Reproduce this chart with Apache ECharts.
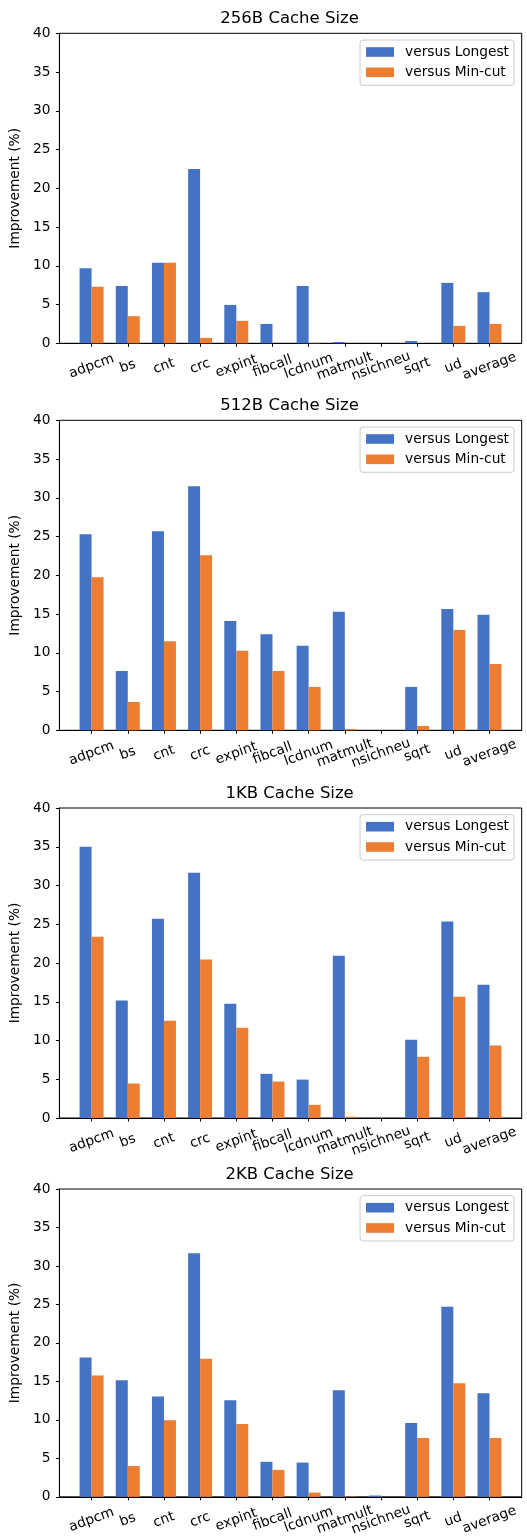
<!DOCTYPE html>
<html>
<head>
<meta charset="utf-8">
<script src="https://cdn.jsdelivr.net/npm/echarts@6/dist/echarts.min.js"></script>
<style>
html,body{margin:0;padding:0;background:#fff;}
#chart{width:527px;height:1538px;}
</style>
</head>
<body>
<div id="chart"></div>
<script>
const categories = ['adpcm','bs','cnt','crc','expint','fibcall','lcdnum','matmult','nsichneu','sqrt','ud','average'];
const panelTitles = ['256B Cache Size','512B Cache Size','1KB Cache Size','2KB Cache Size'];
const seriesNames = ['versus Longest','versus Min-cut'];

const longest256 = [9.7, 7.4, 10.4, 22.5, 4.95, 2.5, 7.4, 0.17, 0, 0.3, 7.8, 6.6];
const mincut256  = [7.3, 3.5, 10.4, 0.7, 2.9, 0, 0.03, 0, 0, 0, 2.25, 2.5];

const longest512 = [25.3, 7.65, 25.7, 31.5, 14.1, 12.4, 10.9, 15.3, 0, 5.6, 15.65, 14.9];
const mincut512  = [19.75, 3.65, 11.5, 22.6, 10.25, 7.65, 5.6, 0.17, 0, 0.56, 12.95, 8.55];

const longest1K = [35.0, 15.15, 25.7, 31.65, 14.75, 5.7, 4.95, 20.95, 0, 10.1, 25.35, 17.2];
const mincut1K  = [23.4, 4.45, 12.55, 20.45, 11.65, 4.7, 1.7, 0.17, 0, 7.9, 15.65, 9.35];

const longest2K = [18.1, 15.15, 13.05, 31.65, 12.55, 4.55, 4.45, 13.85, 0.17, 9.6, 24.7, 13.45];
const mincut2K  = [15.75, 4.0, 9.95, 17.95, 9.45, 3.5, 0.55, 0.05, 0, 7.65, 14.75, 7.65];

const yTicks = [0, 5, 10, 15, 20, 25, 30, 35, 40];

const panels = [
  [longest256, mincut256],
  [longest512, mincut512],
  [longest1K, mincut1K],
  [longest2K, mincut2K]
];
const colors = ['#4472C4', '#ED7D31'];
const FONT = 'DejaVu Sans';
const FS = 13.75;
const gridTops = [33.3, 420.3, 808, 1189];
const gridH = 310;
const gridLeft = 57.5, gridRight = 5.3;
const xMin = -0.89, xMax = 11.89;
const tickIdx = categories.map((c, i) => i);
const labelVals = [xMin].concat(tickIdx, [xMax]);

const option = {
  animation: false,
  backgroundColor: '#fff',
  title: [], legend: [], grid: [], xAxis: [], yAxis: [], series: []
};

panels.forEach((pair, p) => {
  const top = gridTops[p];
  option.title.push({
    text: panelTitles[p],
    left: gridLeft + (527 - gridLeft - gridRight) / 2,
    textAlign: 'center',
    top: top - 24.3,
    padding: 0,
    textStyle: { fontFamily: FONT, fontSize: 16.5, fontWeight: 'normal', color: '#000', lineHeight: 20 }
  });
  option.legend.push({
    data: seriesNames,
    orient: 'vertical',
    right: 13,
    top: top + 6.7,
    padding: [5, 5, 6, 6],
    itemWidth: 28,
    itemHeight: 9.6,
    itemGap: 6.3,
    icon: 'rect',
    borderColor: '#cccccc',
    borderWidth: 1,
    borderRadius: 3,
    backgroundColor: 'rgba(255,255,255,0.8)',
    textStyle: { fontFamily: FONT, fontSize: FS, color: '#000', lineHeight: 14, padding: [0, 0, 0, 6] }
  });
  option.grid.push({
    left: gridLeft, right: gridRight, top: top, height: gridH,
    show: true, borderColor: '#000', borderWidth: 1, backgroundColor: 'transparent'
  });
  option.xAxis.push({
    type: 'value', gridIndex: p, min: xMin, max: xMax,
    axisLine: { show: true, onZero: false, lineStyle: { color: '#000', width: 1 } },
    axisTick: { show: true, customValues: tickIdx, length: 3.5, lineStyle: { color: '#000' } },
    axisLabel: {
      customValues: labelVals,
      formatter: v => {
        const i = Math.round(v);
        return (Math.abs(v - i) < 1e-6 && categories[i] !== undefined) ? categories[i] : '';
      },
      rotate: 20, align: 'center', verticalAlign: 'middle', margin: 23,
      hideOverlap: false,
      fontFamily: FONT, fontSize: FS, color: '#000'
    },
    splitLine: { show: false }
  });
  option.yAxis.push({
    type: 'value', gridIndex: p, min: 0, max: 40, interval: 5,
    name: 'Improvement (%)', nameLocation: 'middle', nameGap: 33,
    nameTextStyle: { fontFamily: FONT, fontSize: FS, color: '#000' },
    axisLine: { show: true, onZero: false, lineStyle: { color: '#000', width: 1 } },
    axisTick: { show: true, length: 3.5, lineStyle: { color: '#000' } },
    axisLabel: { margin: 9, fontFamily: FONT, fontSize: FS, color: '#000',
      formatter: v => (yTicks.indexOf(v) >= 0 ? String(v) : '') },
    splitLine: { show: false }
  });
  pair.forEach((vals, s) => {
    option.series.push({
      name: seriesNames[s],
      type: 'bar',
      xAxisIndex: p, yAxisIndex: p,
      barWidth: 12,
      barGap: '0%',
      itemStyle: { color: colors[s] },
      data: vals.map((v, i) => [i, v])
    });
  });
});

const chart = echarts.init(document.getElementById('chart'), null, { renderer: 'canvas' });
chart.setOption(option);
</script>
</body>
</html>
